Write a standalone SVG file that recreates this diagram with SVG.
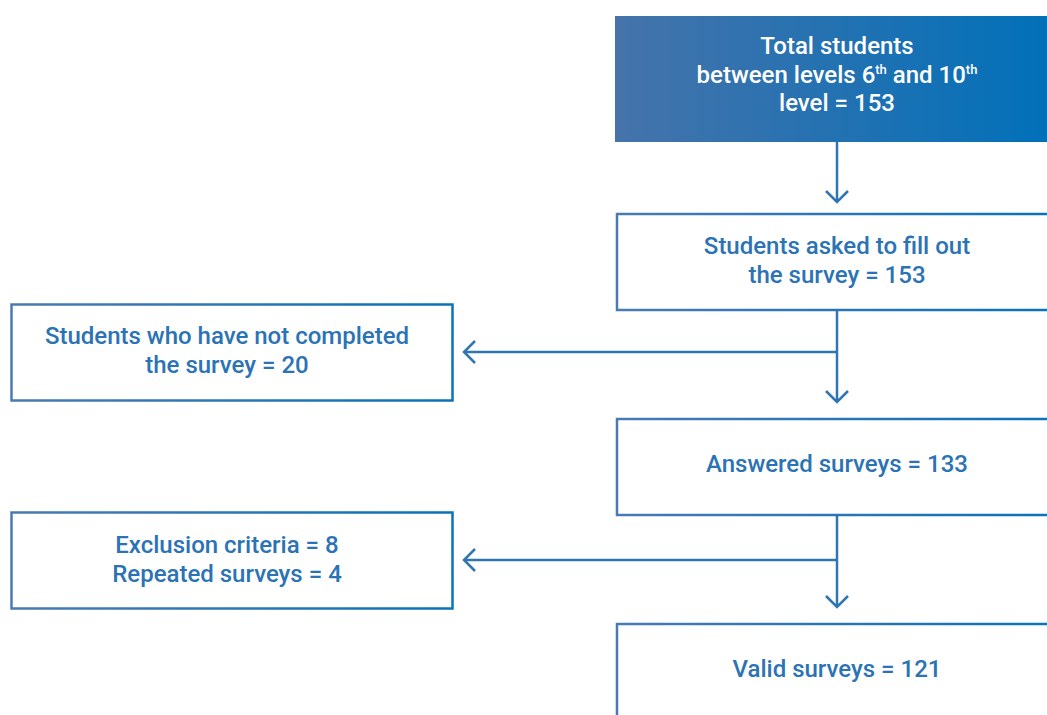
<svg xmlns="http://www.w3.org/2000/svg" width="1047" height="715" viewBox="0 0 1047 715">
  <defs>
    <linearGradient id="headFill" x1="0" y1="0" x2="1" y2="0">
      <stop offset="0" stop-color="#4673aa"/>
      <stop offset="1" stop-color="#0070b9"/>
    </linearGradient>
    <linearGradient id="edge" x1="0" y1="0" x2="1" y2="0">
      <stop offset="0" stop-color="#4a7ab2"/>
      <stop offset="1" stop-color="#0a72b8"/>
    </linearGradient>
  </defs>
  <style>
    .box { fill: #ffffff; stroke: url(#edge); stroke-width: 2.5; }
    .head { fill: url(#headFill); }
    .lbl { font-family: Roboto, "Liberation Sans", sans-serif; font-weight: 500; font-size: 24px; text-anchor: middle; fill: #2b73b4; }
    .lbl-w { font-family: Roboto, "Liberation Sans", sans-serif; font-weight: 500; font-size: 24px; text-anchor: middle; fill: #ffffff; }
    .sup { font-size: 13px; }
    .wire { fill: none; stroke: #2f74b3; stroke-width: 2.5; }
  </style>
  <rect width="1047" height="715" fill="#ffffff"/>

  <g id="connectors">
    <line class="wire" x1="837" y1="142" x2="837" y2="202"/>
    <polyline class="wire" points="826,191 837,202 848,191"/>
    <line class="wire" x1="837" y1="310" x2="837" y2="402"/>
    <polyline class="wire" points="826,391 837,402 848,391"/>
    <line class="wire" x1="837" y1="352" x2="464" y2="352"/>
    <polyline class="wire" points="475,341 464,352 475,363"/>
    <line class="wire" x1="837" y1="515" x2="837" y2="607"/>
    <polyline class="wire" points="826,596 837,607 848,596"/>
    <line class="wire" x1="837" y1="560" x2="464" y2="560"/>
    <polyline class="wire" points="475,549 464,560 475,571"/>
  </g>

  <g id="total">
    <rect class="head" x="615" y="16" width="440" height="126"/>
    <text class="lbl-w" x="837" y="54">Total students</text>
    <text class="lbl-w" x="837" y="83">between levels 6<tspan class="sup" dy="-9">th</tspan><tspan dy="9"> and 10</tspan><tspan class="sup" dy="-9">th</tspan></text>
    <text class="lbl-w" x="837" y="111">level = 153</text>
  </g>

  <g id="asked">
    <rect class="box" x="617" y="214" width="440" height="96"/>
    <text class="lbl" x="837" y="254">Students asked to fill out</text>
    <text class="lbl" x="837" y="283">the survey = 153</text>
  </g>

  <g id="not-completed">
    <rect class="box" x="11.5" y="304.5" width="441" height="96"/>
    <text class="lbl" x="227" y="344">Students who have not completed</text>
    <text class="lbl" x="227" y="373">the survey = 20</text>
  </g>

  <g id="answered">
    <rect class="box" x="617" y="419" width="440" height="96"/>
    <text class="lbl" x="837" y="472">Answered surveys = 133</text>
  </g>

  <g id="excluded">
    <rect class="box" x="11.5" y="512.5" width="441" height="96"/>
    <text class="lbl" x="227" y="553">Exclusion criteria = 8</text>
    <text class="lbl" x="227" y="582">Repeated surveys = 4</text>
  </g>

  <g id="valid">
    <rect class="box" x="617" y="624" width="440" height="110"/>
    <text class="lbl" x="837" y="677">Valid surveys = 121</text>
  </g>
</svg>
